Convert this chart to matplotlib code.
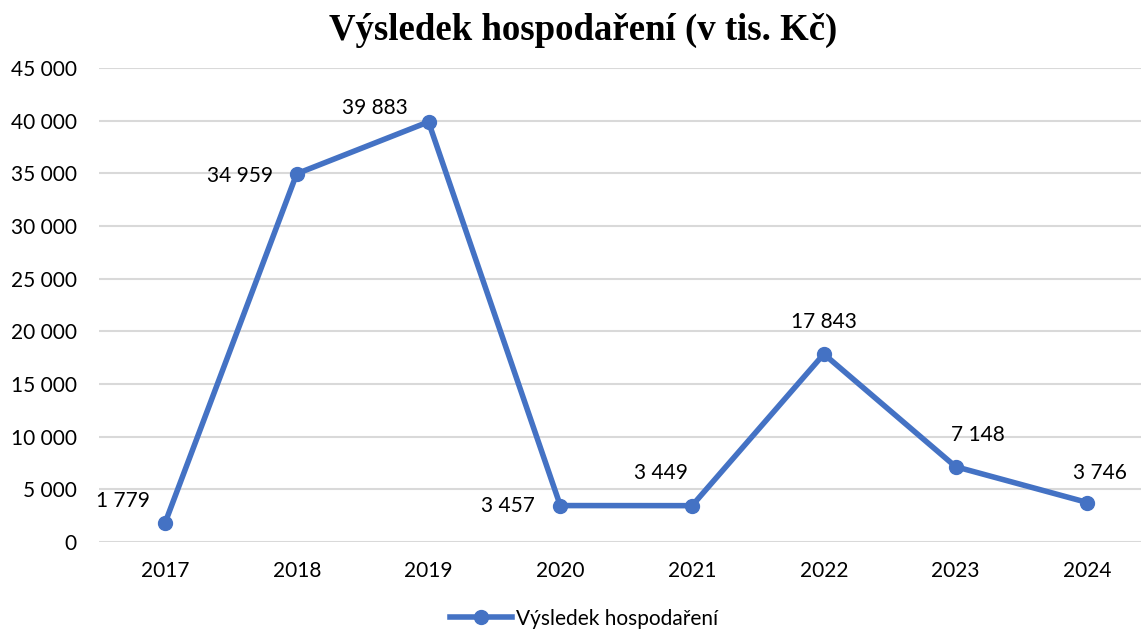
import matplotlib.pyplot as plt
from matplotlib.ticker import FuncFormatter

years = ["2017", "2018", "2019", "2020", "2021", "2022", "2023", "2024"]
values = [1779, 34959, 39883, 3457, 3449, 17843, 7148, 3746]

# data label placement (pixels from the point): alignment, dx, dy
lab_ha = ["right", "right", "right", "right", "center", "center", "center", "center"]
lab_dx = [-15, -24, -21, -25, -31, 0, 22, 13]
lab_dy = [22, -2, 14, 0, 33, 32, 32, 30]

blue = "#4472C4"
plt.rcParams['font.family'] = ['Lato', 'DejaVu Sans']

fig = plt.figure(figsize=(11.41, 6.3), dpi=100)
ax = fig.add_axes([0.0868, 0.1397, 0.924, 0.7524])

x = list(range(len(years)))
ax.plot(x, values, '-o', color=blue, lw=4.0, ms=10, label="Výsledek hospodaření", zorder=3)

def fmt(v):
    return f"{int(v):,}".replace(",", " ")

px = 0.72  # points per pixel at dpi 100
for i, v in enumerate(values):
    ax.annotate(fmt(v), (i, v), xytext=(lab_dx[i] * px, lab_dy[i] * px),
                textcoords="offset points", ha=lab_ha[i], va="center", fontsize=15)

ax.set_xlim(-0.5, 7.5)
ax.set_ylim(0, 45000)
ax.set_yticks(range(0, 45001, 5000))
ax.yaxis.set_major_formatter(FuncFormatter(lambda v, p: fmt(v)))
ax.set_xticks(x)
ax.set_xticklabels(years)
ax.tick_params(length=0, labelsize=15, colors="black")
ax.tick_params(axis='x', pad=14)
ax.tick_params(axis='y', pad=16)
ax.grid(axis='y', color="#d9d9d9", lw=1.5, zorder=0)
for s in ax.spines.values():
    s.set_visible(False)

fig.suptitle("Výsledek hospodaření (v tis. Kč)", x=0.511, y=0.98, fontsize=26.5,
             fontweight="bold", family="Liberation Serif")
fig.legend(loc="center", bbox_to_anchor=(0.512, 0.018), frameon=False, fontsize=15,
           handlelength=3.0, handletextpad=0.2)

fig.savefig("out.png", dpi=100)
